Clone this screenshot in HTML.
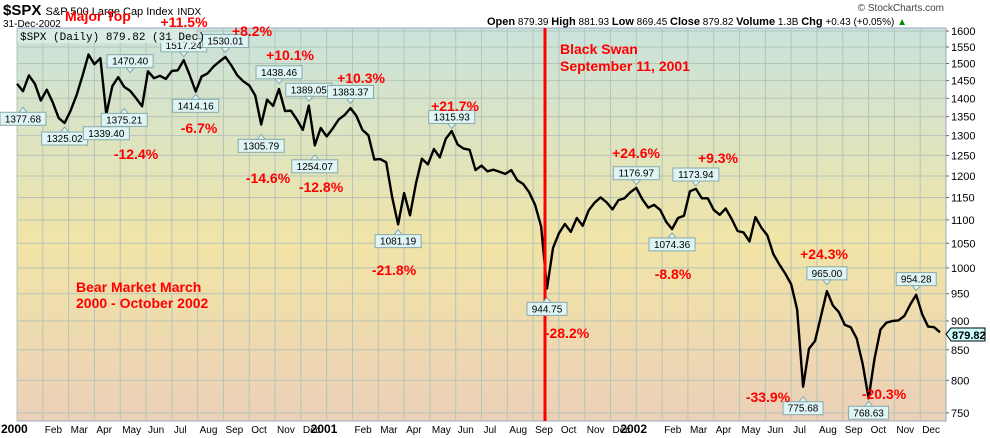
<!DOCTYPE html>
<html><head><meta charset="utf-8"><style>
body{margin:0;background:#fff;width:990px;height:438px;overflow:hidden}
svg{display:block;font-family:"Liberation Sans",sans-serif}
.lb{font-size:10px;fill:#000}
.pc{font-size:14px;font-weight:bold;fill:#f00}
</style></head><body>
<svg id="c" width="990" height="438">
<defs><linearGradient id="bg" x1="0" y1="0" x2="0" y2="1">
<stop offset="0" stop-color="#c9e3dc"/><stop offset="0.55" stop-color="#f1e4a6"/><stop offset="1" stop-color="#ecd0b8"/></linearGradient></defs>
<rect x="17" y="28" width="929" height="393" fill="url(#bg)" stroke="#9ab"/>
<g id="grid"></g><g id="yax"></g><g id="xax"></g>
<path id="line" fill="none" stroke="#000" stroke-width="2.4" stroke-linejoin="round"/>
<line x1="545" y1="28" x2="545" y2="421" stroke="#f00" stroke-width="3"/>
<g id="callouts"></g>
<text x="3" y="15" font-size="15" font-weight="bold">$SPX <tspan font-size="11" font-weight="normal">S&amp;P 500 Large Cap Index</tspan> <tspan font-size="10" font-weight="normal">INDX</tspan></text>
<text x="3" y="27" font-size="10">31-Dec-2002</text>
<text x="65" y="21" class="pc">Major Top</text>
<text x="944" y="11" font-size="10" fill="#444" text-anchor="end">© StockCharts.com</text>
<text x="487" y="25" font-size="10"><tspan font-weight="bold" font-size="11">Open</tspan> 879.39 <tspan font-weight="bold" font-size="11">High</tspan> 881.93 <tspan font-weight="bold" font-size="11">Low</tspan> 869.45 <tspan font-weight="bold" font-size="11">Close</tspan> 879.82 <tspan font-weight="bold" font-size="11">Volume</tspan> 1.3B <tspan font-weight="bold" font-size="11">Chg</tspan> +0.43 (+0.05%) <tspan fill="#080">▲</tspan></text>
<rect x="18" y="29" width="178" height="14" fill="#dfeee8" opacity="0.8"/>
<text x="20" y="40" font-size="11" font-family="Liberation Mono,monospace">$SPX (Daily) 879.82 (31 Dec)</text>
<text x="76" y="292" class="pc">Bear Market March</text>
<text x="76" y="308" class="pc">2000 - October 2002</text>
<text x="560" y="54" class="pc">Black Swan</text>
<text x="560" y="71" class="pc">September 11, 2001</text>
<polygon points="946,334 951,328 985,328 985,341 951,341" fill="#cff" stroke="#000"/>
<text x="952" y="339" font-size="11" font-weight="bold">879.82</text>
</svg>
<script>
const yTicks=[1600,1550,1500,1450,1400,1350,1300,1250,1200,1150,1100,1050,1000,950,900,850,800,750];
const monthLabels=["2000","Feb","Mar","Apr","May","Jun","Jul","Aug","Sep","Oct","Nov","Dec","2001","Feb","Mar","Apr","May","Jun","Jul","Aug","Sep","Oct","Nov","Dec","2002","Feb","Mar","Apr","May","Jun","Jul","Aug","Sep","Oct","Nov","Dec"];
const weeklyClose=[1441,1420,1465,1441,1394,1424,1389,1346,1333,1366,1409,1464,1527,1498,1516,1356,1434,1460,1432,1421,1400,1378,1477,1457,1464,1455,1478,1480,1510,1466,1419,1462,1471,1491,1506,1520,1494,1465,1448,1436,1408,1329,1396,1379,1426,1365,1366,1342,1315,1380,1275,1320,
1298,1318,1342,1354,1373,1352,1315,1301,1240,1241,1233,1150,1090,1160,1110,1183,1242,1228,1266,1245,1292,1312,1277,1267,1264,1214,1225,1211,1215,1210,1205,1214,1190,1181,1162,1133,1086,960,1040,1071,1091,1074,1104,1087,1121,1138,1150,1139,1123,1144,1148,1162,
1172,1146,1127,1133,1122,1096,1080,1104,1109,1164,1170,1148,1148,1122,1111,1125,1102,1076,1073,1054,1106,1083,1067,1028,1007,989,968,921,790,852,865,908,955,928,916,893,889,869,827,772,835,885,897,900,901,909,930,948,912,890,889,880];
const callouts=[["1377.68",1378,1,"b"],["1325.02",1325,8,"b"],["1339.40",1339,15,"b"],["1375.21",1375,18,"b"],["1470.40",1470,19,"t"],["1517.24",1517,28,"t"],["1530.01",1530,35,"t"],["1414.16",1414,30,"b"],["1305.79",1306,41,"b"],["1438.46",1438,44,"t"],["1389.05",1389,49,"t"],["1254.07",1254,50,"b"],["1383.37",1383,56,"t"],["1081.19",1081,64,"b"],["1315.93",1316,73,"t"],["944.75",945,89,"b"],["1176.97",1177,104,"t"],["1074.36",1074,110,"b"],["1173.94",1174,114,"t"],["775.68",776,132,"b"],["965.00",965,136,"t"],["768.63",769,143,"b"],["954.28",954,151,"t"]];
const pctLabels=[["+11.5%",184,27],["+8.2%",252,36],["+10.1%",290,60],["-12.4%",136,159],["-6.7%",199,133],["-14.6%",268,183],["-12.8%",321,192],["+10.3%",361,83],["+21.7%",455,111],["-21.8%",394,275],["-28.2%",567,338],["+24.6%",636,158],["+9.3%",718,163],["-8.8%",673,279],["+24.3%",824,259],["-33.9%",768,402],["-20.3%",884,399]];
const NS="http://www.w3.org/2000/svg";
const X0=17,X1=946;
const yS=v=>31+504*Math.log(1600/v);
const xW=i=>X0+i*(X1-X0)/156;
const xM=m=>X0+m*(X1-X0)/36;
function mk(t,a,p){const e=document.createElementNS(NS,t);for(const k in a)e.setAttribute(k,a[k]);p.appendChild(e);return e;}
const g=document.getElementById('grid'),ya=document.getElementById('yax'),xa=document.getElementById('xax');
yTicks.forEach(v=>{const y=yS(v);
const l=mk('line',{x1:X0,x2:X1,y1:y,y2:y,stroke:'#b5c4b8','stroke-width':1},g);


const t=mk('text',{x:951,y:y+4,'font-size':11},ya);t.textContent=v;


mk('line',{x1:X1,x2:X1+3,y1:y,y2:y,stroke:'#666'},ya);});
monthLabels.forEach((m,i)=>{const x=xM(i);
const l=mk('line',{x1:x,x2:x,y1:28,y2:421,stroke:'#b5c4b8','stroke-width':1},g);


const t=mk('text',{x:x+2,y:433,'font-size':i%12==0?12:10,'font-weight':i%12==0?'bold':'normal'},xa);t.textContent=m;
if(i%12==0)t.setAttribute('x',x-16);

});
document.getElementById('line').setAttribute('d',weeklyClose.map((v,i)=>(i?'L':'M')+xW(i).toFixed(1)+','+yS(v).toFixed(1)).join(''));
const co=document.getElementById('callouts');
callouts.forEach(c=>{const x=xW(c[2]),y=yS(c[1]);const w=c[0].length*6+4;const top=c[3]=="t";
const by=top?y-19:y+6;
const gg=mk('g',{},co);


mk('rect',{x:x-w/2,y:by,width:w,height:13,fill:'#dff4f4',stroke:'#8aa'},gg);
mk('polygon',{points:top?`${x-4},${by+13} ${x+4},${by+13} ${x},${y-1}`:`${x-4},${by} ${x+4},${by} ${x},${y+1}`,fill:'#dff4f4',stroke:'#8aa'},gg);
const t=mk('text',{x:x,y:by+10,'text-anchor':'middle',class:'lb'},gg);t.textContent=c[0];});
pctLabels.forEach(p=>{const t=mk('text',{x:p[1],y:p[2],'text-anchor':'middle',class:'pc'},co);t.textContent=p[0];

});
</script>
</body></html>
